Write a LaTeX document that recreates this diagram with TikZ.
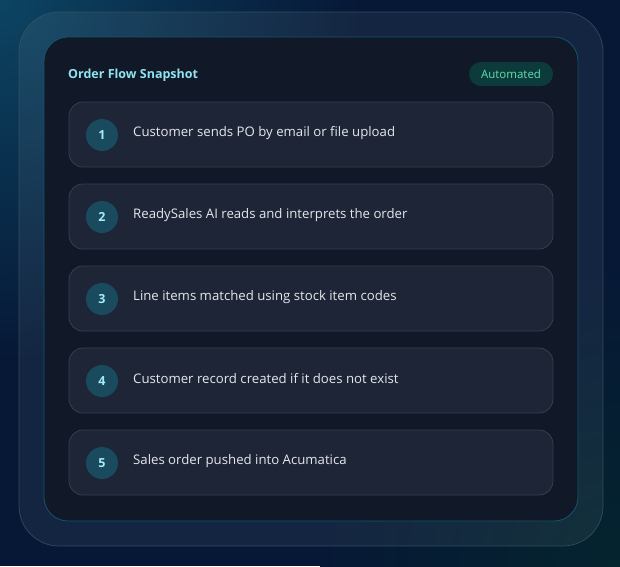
\documentclass[tikz,border=0pt]{standalone}
\usepackage{fontspec}
\setmainfont{Open Sans}
\usepackage{xcolor}
\usetikzlibrary{positioning}

\definecolor{bgTeal}{HTML}{0C4462}
\definecolor{bgNavy}{HTML}{061836}
\definecolor{bgCorner}{HTML}{04242E}
\definecolor{frameLine}{HTML}{3A5566}
\definecolor{cardFill}{HTML}{111827}
\definecolor{cardLine}{HTML}{145470}
\definecolor{titleCyan}{HTML}{8FE3F2}
\definecolor{badgeFill}{HTML}{0D3A3A}
\definecolor{badgeText}{HTML}{5FE0B0}
\definecolor{stepFill}{HTML}{1E2537}
\definecolor{stepLine}{HTML}{363E50}
\definecolor{numFill}{HTML}{1A4A5E}
\definecolor{numText}{HTML}{A6ECF7}
\definecolor{stepText}{HTML}{E5E7EB}

\newcommand{\StepGap}{82}

\tikzset{
  stepbox/.style = {draw = stepLine, fill = stepFill, rounded corners = 14pt, line width = 0.8pt},
  stepnum/.style = {circle, fill = numFill, minimum size = 32pt, inner sep = 0pt,
                    text = numText, font = \fontsize{12.5}{14}\selectfont\bfseries},
  steplabel/.style = {anchor = west, text = stepText, inner sep = 0pt,
                      font = \fontsize{13.2}{15}\selectfont},
}

\begin{document}
\begin{tikzpicture}[x = 1pt, y = -1pt]
    \useasboundingbox (0, 0) rectangle (620, 566);

    % draw background with glows
    \fill[bgNavy] (0, 0) rectangle (620, 566);
    \begin{scope}
        \clip (0, 0) rectangle (620, 566);
        \shade[inner color = bgTeal, outer color = bgNavy] (0, 0) circle (360pt);
        \shade[inner color = bgCorner, outer color = bgNavy] (620, 566) circle (300pt);
    \end{scope}

    % draw outer frame and card
    \fill[white, fill opacity = 0.06, rounded corners = 40pt] (19, 12) rectangle (603, 546);
    \draw[frameLine, line width = 0.7pt, draw opacity = 0.8, rounded corners = 40pt] (19, 12) rectangle (603, 546);
    \draw[cardLine, fill = cardFill, line width = 0.8pt, rounded corners = 24pt] (44, 37) rectangle (578, 521);

    % draw header
    \node[anchor = west, inner sep = 0pt, text = titleCyan, font = \fontsize{12.5}{14}\selectfont\bfseries]
        (title) at (68, 75) {Order Flow Snapshot};
    \node[fill = badgeFill, rounded corners = 12pt, minimum width = 84pt, minimum height = 24pt,
          inner sep = 0pt, text = badgeText, font = \fontsize{11.5}{13}\selectfont]
        (badge) at (511, 74) {Automated};

    % draw steps
    \foreach \n/\txt in {1/Customer sends PO by email or file upload,
                         2/ReadySales AI reads and interprets the order,
                         3/Line items matched using stock item codes,
                         4/Customer record created if it does not exist,
                         5/Sales order pushed into Acumatica}
    {
        \pgfmathsetmacro{\boxtop}{102 + (\n - 1) * \StepGap}
        \draw[stepbox] (69, \boxtop) rectangle (553, \boxtop + 65);
        \node[stepnum] (num\n) at (102, \boxtop + 33) {\n};
        \node[steplabel] (lbl\n) at (133, \boxtop + 31) {\txt};
    }
\end{tikzpicture}
\end{document}
